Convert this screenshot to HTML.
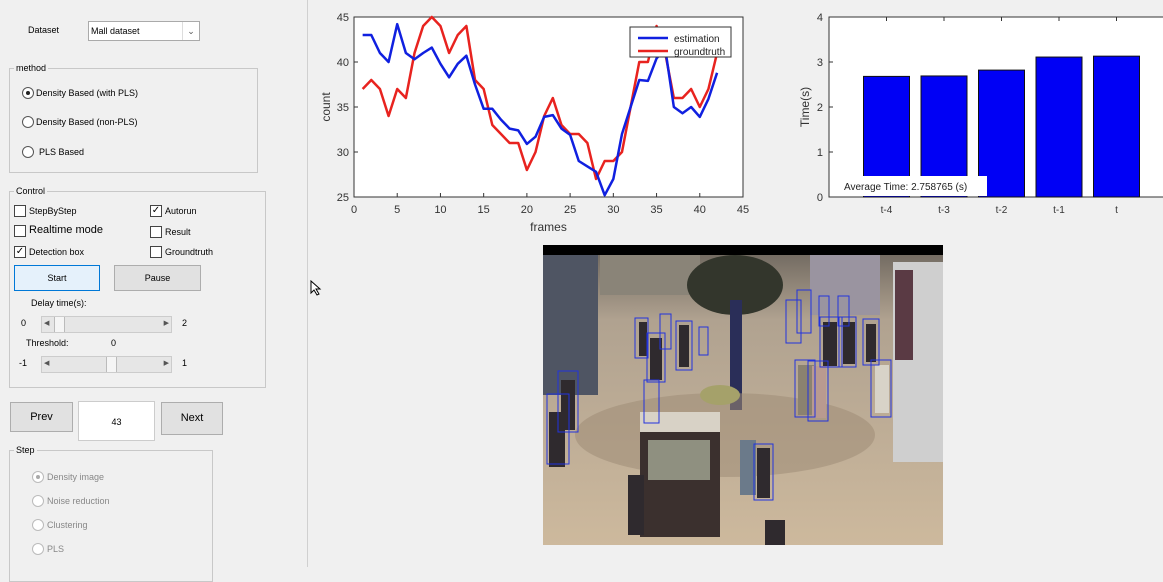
<!DOCTYPE html>
<html><head><meta charset="utf-8"><style>
body{margin:0;width:1163px;height:567px;background:#f0f0f0;font-family:"Liberation Sans",sans-serif;position:relative;overflow:hidden;font-size:9px;color:#000}
.a{position:absolute}
.grp{position:absolute;border:1px solid #c8c8c8}
.grp>.t{position:absolute;top:-6px;left:4px;background:#f0f0f0;padding:0 2px;font-size:9px}
.rb{position:absolute;width:10px;height:10px;border:1px solid #555;border-radius:50%;background:#fff}
.cb{position:absolute;width:10px;height:10px;border:1px solid #444;background:#fff;font-size:10px;line-height:9px;text-align:center}
.btn{position:absolute;background:#e1e1e1;border:1px solid #adadad;text-align:center}
</style></head><body>
<div class="a" style="left:28px;top:25px">Dataset</div>
<div class="a" style="left:88px;top:21px;width:110px;height:18px;background:#fff;border:1px solid #aaa;line-height:18px;text-indent:2px">Mall dataset<span style="position:absolute;right:2px;top:0;width:14px;border-left:1px solid #ddd;text-align:center;color:#555">⌄</span></div>

<div class="grp" style="left:9px;top:68px;width:247px;height:103px"><span class="t">method</span></div>
<div class="rb" style="left:22px;top:87px"><div class="a" style="left:3px;top:3px;width:4px;height:4px;border-radius:50%;background:#222"></div></div>
<div class="a" style="left:36px;top:88px">Density Based (with PLS)</div>
<div class="rb" style="left:22px;top:116px"></div>
<div class="a" style="left:36px;top:117px">Density Based (non-PLS)</div>
<div class="rb" style="left:22px;top:146px"></div>
<div class="a" style="left:39px;top:147px">PLS Based</div>

<div class="grp" style="left:9px;top:191px;width:255px;height:195px"><span class="t">Control</span></div>
<div class="cb" style="left:14px;top:205px"></div><div class="a" style="left:29px;top:206px">StepByStep</div>
<div class="cb" style="left:14px;top:225px"></div><div class="a" style="left:29px;top:224px;font-size:11px">Realtime mode</div>
<div class="cb" style="left:14px;top:246px">✓</div><div class="a" style="left:29px;top:247px">Detection box</div>
<div class="cb" style="left:150px;top:205px">✓</div><div class="a" style="left:165px;top:206px">Autorun</div>
<div class="cb" style="left:150px;top:226px"></div><div class="a" style="left:165px;top:227px">Result</div>
<div class="cb" style="left:150px;top:246px"></div><div class="a" style="left:165px;top:247px">Groundtruth</div>
<div class="btn" style="left:14px;top:265px;width:84px;height:24px;line-height:24px;background:#e5f1fb;border-color:#0078d7">Start</div>
<div class="btn" style="left:114px;top:265px;width:85px;height:24px;line-height:24px">Pause</div>
<div class="a" style="left:31px;top:298px">Delay time(s):</div>
<div class="a" style="left:21px;top:318px">0</div>
<div class="a" style="left:41px;top:316px;width:129px;height:15px;background:#e6e6e6;border:1px solid #ccc"><div class="a" style="left:2px;top:2px;color:#555;font-size:7px">◀</div><div class="a" style="left:12px;top:0;width:9px;height:15px;background:#f5f5f5;border-left:1px solid #bbb;border-right:1px solid #bbb"></div><div class="a" style="right:2px;top:2px;color:#555;font-size:7px">▶</div></div>
<div class="a" style="left:182px;top:318px">2</div>
<div class="a" style="left:26px;top:338px">Threshold:</div><div class="a" style="left:111px;top:338px">0</div>
<div class="a" style="left:19px;top:358px">-1</div>
<div class="a" style="left:41px;top:356px;width:129px;height:15px;background:#e6e6e6;border:1px solid #ccc"><div class="a" style="left:2px;top:2px;color:#555;font-size:7px">◀</div><div class="a" style="left:64px;top:0;width:9px;height:15px;background:#f5f5f5;border-left:1px solid #bbb;border-right:1px solid #bbb"></div><div class="a" style="right:2px;top:2px;color:#555;font-size:7px">▶</div></div>
<div class="a" style="left:182px;top:358px">1</div>

<div class="btn" style="left:10px;top:402px;width:61px;height:28px;line-height:28px;font-size:11px">Prev</div>
<div class="a" style="left:78px;top:401px;width:75px;height:38px;background:#fff;border:1px solid #ccc;line-height:40px;text-align:center">43</div>
<div class="btn" style="left:161px;top:402px;width:60px;height:31px;line-height:31px;font-size:11px">Next</div>
<div class="grp" style="left:9px;top:450px;width:202px;height:130px"><span class="t">Step</span></div>
<div class="rb" style="left:32px;top:471px;border-color:#bbb"><div class="a" style="left:3px;top:3px;width:4px;height:4px;border-radius:50%;background:#aaa"></div></div><div class="a" style="left:47px;top:472px;color:#888">Density image</div>
<div class="rb" style="left:32px;top:495px;border-color:#bbb"></div><div class="a" style="left:47px;top:496px;color:#888">Noise reduction</div>
<div class="rb" style="left:32px;top:519px;border-color:#bbb"></div><div class="a" style="left:47px;top:520px;color:#888">Clustering</div>
<div class="rb" style="left:32px;top:543px;border-color:#bbb"></div><div class="a" style="left:47px;top:544px;color:#888">PLS</div>
<div class="a" style="left:307px;top:0;width:1px;height:567px;background:#d0d0d0"></div>

<svg class="a" style="left:0;top:0" width="1163" height="567" id="sv">
<g id="lc"></g>
<g id="bc"></g>
<g>
<defs><linearGradient id="fl" x1="0" y1="0" x2="0" y2="1"><stop offset="0" stop-color="#6b645c"/><stop offset="0.25" stop-color="#b0a290"/><stop offset="1" stop-color="#cdb99d"/></linearGradient></defs>
<rect x="543" y="245" width="400" height="300" fill="url(#fl)"/>
<rect x="543" y="245" width="400" height="10" fill="#000"/>
<rect x="543" y="255" width="55" height="140" fill="#4f5563"/>
<rect x="600" y="255" width="100" height="40" fill="#8a8478"/>
<rect x="810" y="255" width="70" height="60" fill="#9a94a0"/>
<rect x="893" y="262" width="50" height="200" fill="#cfcfcf"/>
<rect x="895" y="270" width="18" height="90" fill="#5a3a44"/>
<ellipse cx="735" cy="285" rx="48" ry="30" fill="#33362c"/>
<rect x="730" y="300" width="12" height="110" fill="#2a2e58"/>
<ellipse cx="725" cy="435" rx="150" ry="42" fill="#9f8d77" opacity="0.55"/>
<ellipse cx="720" cy="395" rx="20" ry="10" fill="#a5a16a"/>
<rect x="640" y="412" width="80" height="125" fill="#3b302e"/>
<rect x="640" y="412" width="80" height="20" fill="#d8d2c6"/>
<rect x="648" y="440" width="62" height="40" fill="#8f9080"/>
<g fill="#2f2a2e">
<rect x="639" y="322" width="8" height="34"/><rect x="679" y="325" width="10" height="42"/><rect x="650" y="338" width="12" height="42"/><rect x="549" y="412" width="16" height="55"/><rect x="561" y="380" width="14" height="50"/><rect x="823" y="322" width="14" height="44"/><rect x="843" y="322" width="12" height="42"/><rect x="866" y="324" width="10" height="38"/><rect x="757" y="448" width="13" height="50"/><rect x="628" y="475" width="16" height="60"/><rect x="740" y="440" width="16" height="55" fill="#6b7a8a"/><rect x="875" y="365" width="14" height="48" fill="#d8d3c8"/><rect x="798" y="365" width="16" height="50" fill="#8b8270"/><rect x="812" y="366" width="14" height="52" fill="#b99a90"/><rect x="765" y="520" width="20" height="25"/>
</g>
<g fill="none" stroke="#2233dd" stroke-width="1">
<rect x="635" y="318" width="13" height="40"/><rect x="660" y="314" width="11" height="35"/><rect x="676" y="321" width="16" height="49"/><rect x="699" y="327" width="9" height="28"/><rect x="647" y="333" width="18" height="49"/><rect x="644" y="380" width="15" height="43"/><rect x="558" y="371" width="20" height="61"/><rect x="547" y="394" width="22" height="70"/><rect x="786" y="300" width="15" height="43"/><rect x="797" y="290" width="14" height="43"/><rect x="819" y="296" width="10" height="30"/><rect x="838" y="296" width="11" height="30"/><rect x="820" y="317" width="22" height="50"/><rect x="839" y="317" width="17" height="50"/><rect x="863" y="319" width="16" height="46"/><rect x="795" y="360" width="20" height="57"/><rect x="808" y="361" width="20" height="60"/><rect x="871" y="360" width="20" height="57"/><rect x="754" y="444" width="19" height="56"/>
</g></g>
</svg>
<svg class="a" style="left:310px;top:280px" width="12" height="16"><path d="M1 1 L1 13 L4 10 L7 15 L9 14 L6 9 L10 9 Z" fill="#fff" stroke="#000" stroke-width="1"/></svg>
<script>
const frames=[1,2,3,4,5,6,7,8,9,10,11,12,13,14,15,16,17,18,19,20,21,22,23,24,25,26,27,28,29,30,31,32,33,34,35,36,37,38,39,40,41,42];
const estimation=[43,43,41,40,44.2,41,40.3,41,41.6,39.8,38.3,39.8,40.7,37.5,34.8,34.8,33.6,32.6,32.4,30.9,31.7,33.9,34.1,32.6,31.9,29,28.4,27.8,25.2,27,32,35,38,37.9,40.4,41.5,35,34.3,35,33.9,35.9,38.8];
const groundtruth=[37,38,37,34,37,36,41,44,45,44,41,43,44,38,37,33,32,31,31,28,30,34,36,33,32,32,31,27,29,29,30,35,40,40,44,41,36,36,37,35,37,41];
const xTicks=[0,5,10,15,20,25,30,35,40,45];
const yTicks=[25,30,35,40,45];
const barCats=["t-4","t-3","t-2","t-1","t"];
const barVals=[2.68,2.69,2.82,3.11,3.13];
const barYTicks=[0,1,2,3,4];
const NS="http://www.w3.org/2000/svg";
function mk(p,t,a){const e=document.createElementNS(NS,t);for(const k in a)e.setAttribute(k,a[k]);p.appendChild(e);return e;}
const FT='font-family:"Liberation Sans",sans-serif;font-size:11px;fill:#333';
const lc=document.getElementById('lc');
const L=354,R=743,T=17,B=197;
const xs=v=>L+(v-0)/45*(R-L), ys=v=>B-(v-25)/20*(B-T);
mk(lc,'rect',{x:L,y:T,width:R-L,height:B-T,fill:'#fff',stroke:'#333','stroke-width':1});
xTicks.forEach(v=>{const e=mk(lc,'line',{x1:xs(v),x2:xs(v),y1:B,y2:B-4,stroke:'#333'});
const t=mk(lc,'text',{x:xs(v),y:B+16,'text-anchor':'middle',style:FT});t.textContent=v;});
yTicks.forEach(v=>{mk(lc,'line',{x1:L,x2:L+4,y1:ys(v),y2:ys(v),stroke:'#333'});
const t=mk(lc,'text',{x:L-5,y:ys(v)+4,'text-anchor':'end',style:FT});t.textContent=v;});
let xl=mk(lc,'text',{x:(L+R)/2,y:B+34,'text-anchor':'middle',style:FT+';font-size:12px'});xl.textContent='frames';
let yl=mk(lc,'text',{x:0,y:0,transform:`translate(${L-24},${(T+B)/2}) rotate(-90)`,'text-anchor':'middle',style:FT+';font-size:12px'});yl.textContent='count';
function ln(arr,col,name){const p=mk(lc,'polyline',{points:frames.map((f,i)=>xs(f)+','+ys(arr[i])).join(' '),fill:'none',stroke:col,'stroke-width':2.5,'stroke-linejoin':'round'});}
ln(groundtruth,'#e8231f','groundtruth-line');ln(estimation,'#1020e0','estimation-line');
const lg=mk(lc,'g',{});
mk(lg,'rect',{x:630,y:27,width:101,height:30,fill:'#fff',stroke:'#333'});
mk(lg,'line',{x1:638,x2:668,y1:38,y2:38,stroke:'#1020e0','stroke-width':2.5});
mk(lg,'line',{x1:638,x2:668,y1:51,y2:51,stroke:'#e8231f','stroke-width':2.5});
let t1=mk(lg,'text',{x:674,y:42,style:FT+';font-size:10px;fill:#222'});t1.textContent='estimation';
let t2=mk(lg,'text',{x:674,y:55,style:FT+';font-size:10px;fill:#222'});t2.textContent='groundtruth';
const bc=document.getElementById('bc');
const BL=829,BR=1174,BT=17,BB=197;
const bx=i=>BL+(i+1)*(BR-BL)/6, by=v=>BB-v/4*(BB-BT);
mk(bc,'rect',{x:BL,y:BT,width:BR-BL,height:BB-BT,fill:'#fff',stroke:'#333'});
barYTicks.forEach(v=>{mk(bc,'line',{x1:BL,x2:BL+4,y1:by(v),y2:by(v),stroke:'#333'});const t=mk(bc,'text',{x:BL-6,y:by(v)+4,'text-anchor':'end',style:FT});t.textContent=v;});
const bw=0.8*(BR-BL)/6;
barCats.forEach((c,i)=>{mk(bc,'line',{x1:bx(i),x2:bx(i),y1:BT,y2:BT+4,stroke:'#333'});
const r=mk(bc,'rect',{x:bx(i)-bw/2,y:by(barVals[i]),width:bw,height:BB-by(barVals[i]),fill:'#0000f5',stroke:'#111'});
const t=mk(bc,'text',{x:bx(i),y:BB+16,'text-anchor':'middle',style:FT+';font-size:10px'});t.textContent=c;});
let by2=mk(bc,'text',{x:0,y:0,transform:`translate(${BL-20},${(BT+BB)/2}) rotate(-90)`,'text-anchor':'middle',style:FT+';font-size:12px'});by2.textContent='Time(s)';
mk(bc,'rect',{x:840,y:176,width:147,height:20,fill:'#fff'});
let av=mk(bc,'text',{x:844,y:190,style:FT+';font-size:10px;fill:#222'});av.textContent='Average Time: 2.758765 (s)';
</script>
</body></html>
